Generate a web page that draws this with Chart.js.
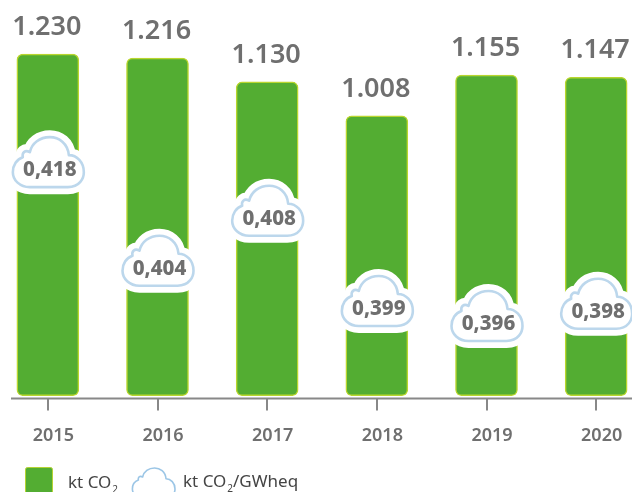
<!DOCTYPE html>
<html><head><meta charset="utf-8">
<style>html,body{margin:0;padding:0;background:#fff;overflow:hidden;width:632px;height:492px}
#w{position:absolute;left:-7px;top:0;width:658px;height:492px}</style>
<script src="https://cdn.jsdelivr.net/npm/chart.js@4"></script></head>
<body><div id="w"><canvas id="c" width="658" height="492"></canvas></div>
<script>
const years = ['2015','2016','2017','2018','2019','2020'];
const ktCO2 = [1230,1216,1130,1008,1155,1147];
const ktLabels = ['1.230','1.216','1.130','1.008','1.155','1.147'];
const intensity = ['0,418','0,404','0,408','0,399','0,396','0,398'];
const cloudLevels = [751,396,576,251,197,241];
const legendBar = ['kt CO','2',''];
const legendCloud = ['kt CO','2','/GWheq'];
const FONT = '"Noto Sans"';
const GREY = '#6f6f6f';

function cloudPath(ctx,x,y,s){
  ctx.beginPath();
  ctx.moveTo(x-19*s,y);
  ctx.lineTo(x+19*s,y);
  ctx.bezierCurveTo(x+31*s,y,x+35*s,y-9*s,x+35*s,y-15*s);
  ctx.bezierCurveTo(x+35*s,y-25*s,x+28*s,y-32*s,x+20*s,y-32*s);
  ctx.bezierCurveTo(x+19*s,y-44*s,x+10*s,y-50*s,x+1*s,y-50*s);
  ctx.bezierCurveTo(x-9*s,y-50*s,x-17*s,y-44*s,x-19*s,y-35*s);
  ctx.bezierCurveTo(x-24*s,y-38*s,x-27*s,y-34*s,x-26*s,y-30*s);
  ctx.bezierCurveTo(x-32*s,y-28*s,x-36*s,y-22*s,x-36*s,y-15*s);
  ctx.bezierCurveTo(x-36*s,y-7*s,x-29*s,y,x-19*s,y);
  ctx.closePath();
}
function drawCloud(ctx,x,y,s,halo){
  ctx.lineJoin='round';
  cloudPath(ctx,x,y,s);
  if(halo){ctx.strokeStyle='#fff';ctx.lineWidth=14;ctx.stroke();}
  ctx.fillStyle='#fff';ctx.fill();
  ctx.strokeStyle=halo?'#bcd7ec':'#9cc6e6';ctx.lineWidth=halo?2.6:1.6;ctx.stroke();
}
function legendText(ctx,parts,x,y){
  ctx.fillStyle='#444';ctx.textAlign='left';
  ctx.font='400 17px '+FONT;
  ctx.fillText(parts[0],x,y);
  x+=ctx.measureText(parts[0]).width+1;
  ctx.font='400 10px '+FONT;
  ctx.fillText(parts[1],x,y+5);
  x+=ctx.measureText(parts[1]).width;
  ctx.font='400 17px '+FONT;
  ctx.fillText(parts[2],x,y);
}
const OX = 7; // canvas is shifted left by this much
const overlay = {
  id:'overlay',
  afterDatasetsDraw(chart){
    const ctx=chart.ctx, a=chart.chartArea;
    ctx.save();
    const bars=chart.getDatasetMeta(0).data, pts=chart.getDatasetMeta(1).data;
    ctx.textAlign='center';ctx.textBaseline='alphabetic';
    ctx.fillStyle=GREY;ctx.font='600 27px '+FONT;
    bars.forEach((b,i)=>ctx.fillText(ktLabels[i],b.x-1,b.y-19));
    pts.forEach((p,i)=>{
      drawCloud(ctx,p.x+1,p.y,1,true);
      ctx.fillStyle=GREY;ctx.font='800 20.5px '+FONT;
      ctx.textAlign='center';
      ctx.fillText(intensity[i],p.x+2,p.y-11);
    });
    // axis line
    ctx.strokeStyle='#888';ctx.lineWidth=2;
    ctx.beginPath();ctx.moveTo(11+OX,a.bottom);ctx.lineTo(632+OX,a.bottom);ctx.stroke();
    // legend
    ctx.fillStyle='#53ad32';ctx.strokeStyle='#b5d334';ctx.lineWidth=1;
    ctx.beginPath();ctx.roundRect(25.5+OX,467.5,27,30,2);ctx.fill();ctx.stroke();
    legendText(ctx,legendBar,68+OX,488);
    drawCloud(ctx,154+OX,498,.6,false);
    legendText(ctx,legendCloud,183+OX,487);
    ctx.restore();
  }
};
new Chart(document.getElementById('c'),{
  data:{labels:years,datasets:[
    {type:'bar',data:ktCO2,backgroundColor:'#53ad32',borderColor:'#b9d62f',borderWidth:1.5,borderRadius:6,borderSkipped:false,barThickness:62,order:2},
    {type:'line',data:cloudLevels,showLine:false,pointRadius:0,order:1}
  ]},
  plugins:[overlay],
  options:{
    responsive:false,animation:false,
    layout:{padding:{top:7,bottom:30,left:0,right:0}},
    plugins:{legend:{display:false},tooltip:{enabled:false}},
    scales:{
      x:{grid:{offset:false,drawOnChartArea:false,drawTicks:true,tickLength:12,color:'#888',lineWidth:2},border:{display:false},
         ticks:{color:GREY,font:{family:FONT,size:18,weight:'600'},padding:15,labelOffset:5.5,maxRotation:0}},
      y:{display:false,min:-10,max:1400}
    }
  }
});
</script></body></html>
